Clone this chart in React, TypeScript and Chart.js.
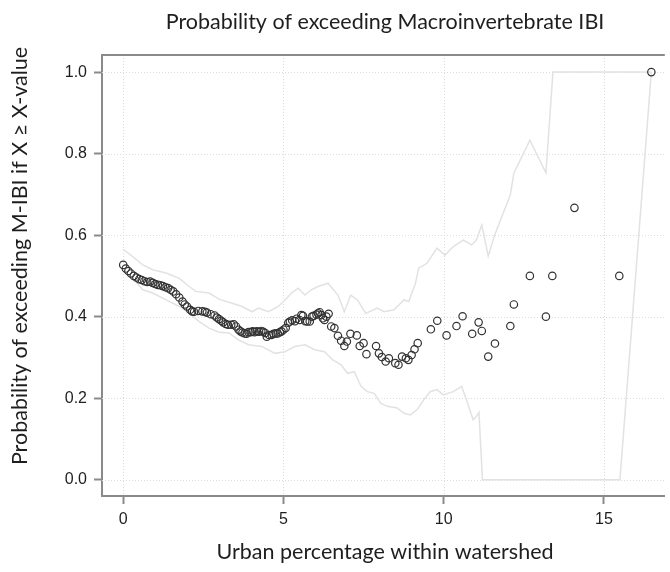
import React, { useEffect, useRef } from "react";
import { Chart, registerables } from "chart.js";

Chart.register(...registerables);

const TITLE = "Probability of exceeding Macroinvertebrate IBI";
const X_TITLE = "Urban percentage within watershed";
const Y_TITLE = "Probability of exceeding M-IBI if X \u2265 X-value";

const X_TICKS = [0, 5, 10, 15];
const Y_TICKS = [0, 0.2, 0.4, 0.6, 0.8, 1.0];

// observed probability points
const pointX = [
  0.0, 0.08, 0.16, 0.24, 0.33, 0.41, 0.5, 0.58, 0.66, 0.75, 0.84, 0.92, 1.0, 1.08, 1.16, 1.24, 1.32, 1.4, 1.48, 1.56,
  1.65, 1.75, 1.85, 1.92, 1.99, 2.09, 2.15, 2.21, 2.34, 2.47, 2.55, 2.61, 2.73, 2.85, 2.92, 2.99, 3.06, 3.12, 3.2, 3.27,
  3.37, 3.45, 3.52, 3.6, 3.66, 3.72, 3.79, 3.85, 3.91, 3.98, 4.04, 4.1, 4.17, 4.24, 4.31, 4.37, 4.43, 4.48, 4.55, 4.63,
  4.69, 4.76, 4.82, 4.89, 4.94, 5.0, 5.07, 5.15, 5.2, 5.27, 5.36, 5.41, 5.5, 5.56, 5.61, 5.68, 5.74, 5.82, 5.89, 5.94,
  6.03, 6.08, 6.13, 6.19, 6.23, 6.28, 6.34, 6.41, 6.49, 6.59, 6.7, 6.8, 6.9, 6.98, 7.09, 7.29, 7.38, 7.5, 7.59, 7.89,
  7.98, 8.07, 8.19, 8.29, 8.49, 8.59, 8.7, 8.82, 8.9, 9.0, 9.09, 9.19, 9.6, 9.8, 10.09, 10.4, 10.59, 10.89, 11.09, 11.19,
  11.39, 11.6, 12.08, 12.19, 12.69, 13.19, 13.39, 14.08, 15.48, 16.48,
];
const pointY = [
  0.527, 0.518, 0.512, 0.506, 0.5, 0.496, 0.492, 0.49, 0.487, 0.485, 0.486, 0.483, 0.48, 0.478, 0.477, 0.475, 0.472, 0.47, 0.466, 0.462,
  0.455, 0.447, 0.437, 0.43, 0.425, 0.417, 0.413, 0.412, 0.414, 0.413, 0.412, 0.41, 0.406, 0.403, 0.398, 0.394, 0.39, 0.386, 0.382, 0.38,
  0.38, 0.381, 0.376, 0.368, 0.364, 0.361, 0.359, 0.358, 0.362, 0.362, 0.364, 0.362, 0.364, 0.363, 0.365, 0.363, 0.36, 0.351, 0.355, 0.355,
  0.358, 0.359, 0.359, 0.362, 0.364, 0.368, 0.372, 0.385, 0.388, 0.391, 0.389, 0.395, 0.392, 0.404, 0.402, 0.389, 0.388, 0.388, 0.4, 0.402,
  0.405, 0.408, 0.411, 0.404, 0.396, 0.392, 0.4, 0.407, 0.376, 0.372, 0.353, 0.341, 0.328, 0.339, 0.358, 0.354, 0.328, 0.335, 0.308, 0.328,
  0.31, 0.301, 0.29, 0.298, 0.286, 0.282, 0.302, 0.298, 0.294, 0.306, 0.32, 0.335, 0.369, 0.39, 0.354, 0.377, 0.401, 0.358, 0.386, 0.365,
  0.302, 0.334, 0.377, 0.43, 0.5, 0.4, 0.5, 0.667, 0.5, 1.0,
];

// upper confidence band
const upperX = [
  0.0, 0.3, 0.61, 0.92, 1.34, 1.75, 2.06, 2.27, 2.68, 2.99, 3.4, 3.71, 4.02, 4.22, 4.53, 4.84, 5.05, 5.25, 5.46, 5.67,
  5.87, 6.08, 6.39, 6.7, 6.9, 7.1, 7.31, 7.57, 7.93, 8.14, 8.45, 8.76, 8.91, 9.12, 9.22, 9.48, 9.79, 10.04, 10.3, 10.61,
  10.87, 11.02, 11.19, 11.39, 11.59, 12.08, 12.19, 12.69, 13.19, 13.41, 16.48,
];
const upperY = [
  0.565, 0.547, 0.527, 0.515, 0.507, 0.494, 0.474, 0.462, 0.458, 0.443, 0.433, 0.425, 0.412, 0.421, 0.412, 0.425, 0.441, 0.458, 0.47, 0.453,
  0.466, 0.474, 0.482, 0.453, 0.412, 0.453, 0.441, 0.408, 0.421, 0.412, 0.417, 0.441, 0.437, 0.482, 0.519, 0.531, 0.568, 0.551, 0.572, 0.588,
  0.576, 0.588, 0.625, 0.549, 0.6, 0.699, 0.752, 0.833, 0.753, 1.0, 1.0,
];

// lower confidence band
const lowerX = [
  0.0, 0.3, 0.61, 0.92, 1.34, 1.75, 2.06, 2.37, 2.68, 2.99, 3.3, 3.6, 3.91, 4.32, 4.74, 5.05, 5.36, 5.67, 5.98, 6.28,
  6.54, 6.8, 7.0, 7.21, 7.42, 7.62, 7.83, 8.03, 8.24, 8.55, 8.76, 8.96, 9.17, 9.38, 9.58, 9.79, 9.99, 10.3, 10.56, 10.71,
  10.92, 11.02, 11.1, 11.21, 15.5, 16.48,
];
const lowerY = [
  0.511, 0.494, 0.466, 0.458, 0.441, 0.425, 0.409, 0.388, 0.372, 0.362, 0.36, 0.343, 0.331, 0.327, 0.31, 0.314, 0.327, 0.331, 0.319, 0.314,
  0.294, 0.282, 0.261, 0.265, 0.229, 0.216, 0.212, 0.188, 0.18, 0.176, 0.163, 0.159, 0.172, 0.196, 0.216, 0.221, 0.208, 0.216, 0.229, 0.196,
  0.147, 0.155, 0.165, 0.0, 0.0, 1.0,
];

const zip = (xs: number[], ys: number[]) => xs.map((x, i) => ({ x, y: ys[i] }));

const TITLE_FONT = "Lato, 'Open Sans', sans-serif";
const TICK_FONT = "'Liberation Sans', Arial, sans-serif";

const decorPlugin = {
  id: "decor",
  beforeDatasetsDraw(chart: any) {
    const { ctx, chartArea, scales } = chart;
    const xs = scales.x;
    const ys = scales.y;
    ctx.save();
    ctx.strokeStyle = "#dcdcdc";
    ctx.lineWidth = 1;
    ctx.setLineDash([1, 2]);
    X_TICKS.forEach((v) => {
      const px = Math.round(xs.getPixelForValue(v)) + 0.5;
      ctx.beginPath();
      ctx.moveTo(px, chartArea.top);
      ctx.lineTo(px, chartArea.bottom);
      ctx.stroke();
    });
    Y_TICKS.forEach((v) => {
      const py = Math.round(ys.getPixelForValue(v)) + 0.5;
      ctx.beginPath();
      ctx.moveTo(chartArea.left, py);
      ctx.lineTo(chartArea.right, py);
      ctx.stroke();
    });
    ctx.restore();
  },
  afterDraw(chart: any) {
    const { ctx, chartArea } = chart;
    ctx.save();
    // top border
    ctx.strokeStyle = "#8a8a8a";
    ctx.lineWidth = 2;
    ctx.beginPath();
    ctx.moveTo(chartArea.left - 1, chartArea.top);
    ctx.lineTo(chartArea.right, chartArea.top);
    ctx.stroke();

    ctx.fillStyle = "#1e1e1e";
    ctx.textAlign = "center";
    ctx.textBaseline = "middle";
    ctx.font = `21.5px ${TITLE_FONT}`;
    ctx.fillText(TITLE, 385, 22);
    ctx.fillText(X_TITLE, 385, 552);
    ctx.translate(20, 256);
    ctx.rotate(-Math.PI / 2);
    ctx.font = `21.5px ${TITLE_FONT}`;
    ctx.fillText(Y_TITLE, 0, 0);
    ctx.restore();
  },
};

export default function App() {
  const ref = useRef<HTMLCanvasElement>(null);

  useEffect(() => {
    if (!ref.current) return;
    const chart = new Chart(ref.current, {
      type: "scatter",
      data: {
        datasets: [
          {
            label: "observed",
            data: zip(pointX, pointY),
            pointRadius: 3.7,
            pointBorderColor: "#333",
            pointBackgroundColor: "rgba(0,0,0,0)",
            pointBorderWidth: 1.2,
            showLine: false,
            order: 1,
          },
          {
            label: "upper",
            data: zip(upperX, upperY),
            showLine: true,
            borderColor: "#e2e2e2",
            borderWidth: 1.5,
            pointRadius: 0,
            tension: 0,
            order: 2,
          },
          {
            label: "lower",
            data: zip(lowerX, lowerY),
            showLine: true,
            borderColor: "#e2e2e2",
            borderWidth: 1.5,
            pointRadius: 0,
            tension: 0,
            order: 2,
          },
        ],
      },
      options: {
        animation: false,
        responsive: false,
        events: [],
        layout: { padding: { top: 55, left: 0, right: 0, bottom: 0 } },
        plugins: {
          legend: { display: false },
          tooltip: { enabled: false },
          title: { display: false },
        },
        scales: {
          x: {
            type: "linear",
            min: -0.662,
            max: 16.9,
            afterFit: (s: any) => {
              s.height = 76;
            },
            afterBuildTicks: (s: any) => {
              s.ticks = X_TICKS.map((v) => ({ value: v }));
            },
            grid: {
              drawOnChartArea: false,
              drawTicks: true,
              tickLength: 8,
              tickColor: "#8a8a8a",
              tickWidth: 2,
            },
            border: { display: true, color: "#8a8a8a", width: 2 },
            ticks: {
              padding: 6,
              color: "#1e1e1e",
              font: { family: TICK_FONT, size: 16 },
              maxRotation: 0,
              callback: (v: any) => String(v),
            },
          },
          y: {
            type: "linear",
            min: -0.04,
            max: 1.042,
            afterFit: (s: any) => {
              s.width = 102;
            },
            afterBuildTicks: (s: any) => {
              s.ticks = Y_TICKS.map((v) => ({ value: v }));
            },
            grid: {
              drawOnChartArea: false,
              drawTicks: true,
              tickLength: 8,
              tickColor: "#8a8a8a",
              tickWidth: 2,
            },
            border: { display: true, color: "#8a8a8a", width: 2 },
            ticks: {
              padding: 7,
              color: "#1e1e1e",
              font: { family: TICK_FONT, size: 16 },
              callback: (v: any) => Number(v).toFixed(1),
            },
          },
        },
      },
      plugins: [decorPlugin],
    });
    return () => chart.destroy();
  }, []);

  return (
    <div style={{ position: "fixed", left: 0, top: 0, width: 670, height: 572, background: "#fff", overflow: "hidden" }}>
      <canvas ref={ref} width={670} height={572} style={{ display: "block" }} />
    </div>
  );
}
